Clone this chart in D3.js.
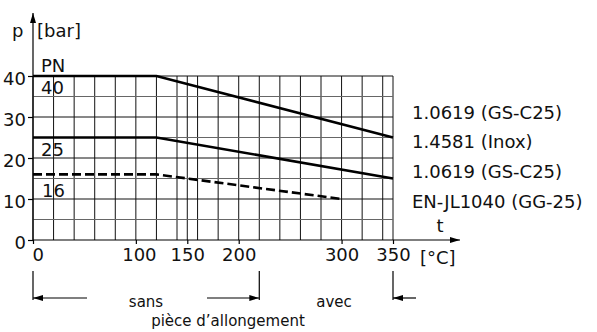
<!DOCTYPE html>
<html>
<head>
<meta charset="utf-8">
<script src="https://cdn.jsdelivr.net/npm/d3@7"></script>
<style>
  body { margin: 0; background: #fff; }
  svg { font-family: "DejaVu Sans", sans-serif; }
  .grid line { stroke: #111; stroke-width: 1; }
  .grid line.minor { stroke: #666; }
  .axis path, .axis line { stroke: #000; stroke-width: 1.2; }
  .axis text { font-size: 18px; fill: #111; font-family: "DejaVu Sans", sans-serif; }
  .curve { fill: none; stroke: #000; stroke-width: 2.6; }
  .lbl { font-size: 18px; fill: #111; }
  .small { font-size: 15px; fill: #111; }
</style>
</head>
<body>
<div id="chart"></div>
<script>
// --- data ---
const pn40T = [0, 120, 350];
const pn40P = [40, 40, 25];
const pn25T = [0, 120, 350];
const pn25P = [25, 25, 15];
const pn16T = [0, 120, 300];
const pn16P = [16, 16, 10];

const xTicks = [0, 100, 150, 200, 300, 350];
const yTicks = [0, 10, 20, 30, 40];
const xGrid = [0, 20, 40, 60, 80, 100, 120, 140, 150, 160, 180, 200, 220, 240, 260, 280, 300, 320, 340, 350];
const yGrid = [5, 10, 15, 20, 25, 30, 35, 40];

const materials = ["1.0619 (GS-C25)", "1.4581 (Inox)", "1.0619 (GS-C25)", "EN-JL1040 (GG-25)"];
const sansRange = [0, 220];   // without extension piece
const avecFrom = 350;         // with extension piece beyond this

const W = 597, H = 332;
const svg = d3.select("#chart").append("svg").attr("width", W).attr("height", H);

const x = d3.scaleLinear().domain([0, 350]).range([33, 393]);
const y = d3.scaleLinear().domain([0, 40]).range([240, 76]);

const defs = svg.append("defs");
defs.append("marker").attr("id", "arr")
    .attr("viewBox", "0 0 10 6").attr("refX", 10).attr("refY", 3)
    .attr("markerWidth", 10).attr("markerHeight", 6).attr("markerUnits", "userSpaceOnUse")
    .attr("orient", "auto")
  .append("path").attr("d", "M0,0L10,3L0,6Z").attr("fill", "#000");

// --- grid ---
const grid = svg.append("g").attr("class", "grid");
grid.selectAll(".v").data(xGrid).enter().append("line")
    .attr("x1", d => x(d)).attr("x2", d => x(d))
    .attr("y1", y(0)).attr("y2", y(40));
grid.selectAll(".h").data(yGrid).enter().append("line")
    .attr("class", d => d % 10 ? "minor" : null)
    .attr("x1", x(0)).attr("x2", x(350))
    .attr("y1", d => y(d)).attr("y2", d => y(d));

// --- axes ---
const yAxis = svg.append("g").attr("class", "axis")
    .attr("transform", `translate(${x(0)},0)`)
    .call(d3.axisLeft(y).tickValues(yTicks).tickSize(5).tickSizeOuter(0).tickPadding(2));
yAxis.select(".domain").remove();
yAxis.selectAll(".tick text").attr("dy", "0.45em");
svg.append("line").attr("x1", x(0)).attr("x2", x(0)).attr("y1", y(0)).attr("y2", 13)
    .attr("stroke", "#000").attr("stroke-width", 1.2).attr("marker-end", "url(#arr)");

const xAxis = svg.append("g").attr("class", "axis")
    .attr("transform", `translate(0,${y(0)})`)
    .call(d3.axisBottom(x).tickValues(xTicks).tickSize(4).tickSizeOuter(0).tickPadding(4));
xAxis.select(".domain").remove();
xAxis.selectAll(".tick text").filter(d => d === 0).attr("text-anchor", "start").attr("dx", -1);
xAxis.selectAll(".tick text").filter(d => d === 100).attr("dx", 3);
svg.append("line").attr("x1", x(0)).attr("x2", 460).attr("y1", y(0)).attr("y2", y(0))
    .attr("stroke", "#000").attr("stroke-width", 1.2).attr("marker-end", "url(#arr)");

// --- curves ---
const line = d3.line().x(d => x(d[0])).y(d => y(d[1]));
svg.append("path").attr("class", "curve").attr("d", line(d3.zip(pn40T, pn40P)));
svg.append("path").attr("class", "curve").attr("d", line(d3.zip(pn25T, pn25P)));
svg.append("path").attr("class", "curve").attr("stroke-dasharray", "9,4")
    .attr("d", line(d3.zip(pn16T, pn16P)));

// --- labels ---
svg.append("text").attr("class", "lbl").attr("x", 12).attr("y", 37).text("p");
svg.append("text").attr("class", "lbl").attr("x", 37).attr("y", 37).text("[bar]");
svg.append("text").attr("class", "lbl").attr("x", 41).attr("y", 72).text("PN");
svg.append("text").attr("class", "lbl").attr("x", 41).attr("y", 94).text("40");
svg.append("text").attr("class", "lbl").attr("x", 41).attr("y", 156).text("25");
svg.append("text").attr("class", "lbl").attr("x", 42).attr("y", 197).text("16");

svg.selectAll(".mat").data(materials).enter().append("text")
    .attr("class", "lbl").attr("x", 412)
    .attr("y", (d, i) => [113, 142, 172, 202][i]).attr("dy", "0.36em")
    .text(d => d);

svg.append("text").attr("class", "lbl").attr("x", 440).attr("y", 232).attr("text-anchor", "middle").text("t");
svg.append("text").attr("class", "lbl").attr("x", 420).attr("y", 264).text("[°C]");

// --- extension piece annotation ---
const ann = svg.append("g").attr("stroke", "#000").attr("stroke-width", 1.2);
[sansRange[0], sansRange[1], avecFrom].forEach(v => {
  ann.append("line").attr("x1", x(v)).attr("x2", x(v)).attr("y1", 271).attr("y2", 300);
});
ann.append("line").attr("x1", 87).attr("x2", x(sansRange[0])).attr("y1", 298).attr("y2", 298).attr("marker-end", "url(#arr)");
ann.append("line").attr("x1", 207).attr("x2", x(sansRange[1])).attr("y1", 298).attr("y2", 298).attr("marker-end", "url(#arr)");
ann.append("line").attr("x1", 416).attr("x2", x(avecFrom)).attr("y1", 298).attr("y2", 298).attr("marker-end", "url(#arr)");

svg.append("text").attr("class", "small").attr("x", 146).attr("y", 307).attr("text-anchor", "middle").text("sans");
svg.append("text").attr("class", "small").attr("x", 334).attr("y", 307).attr("text-anchor", "middle").text("avec");
svg.append("text").attr("class", "small").attr("x", 228).attr("y", 326).attr("text-anchor", "middle").text("pièce d’allongement");
</script>
</body>
</html>
